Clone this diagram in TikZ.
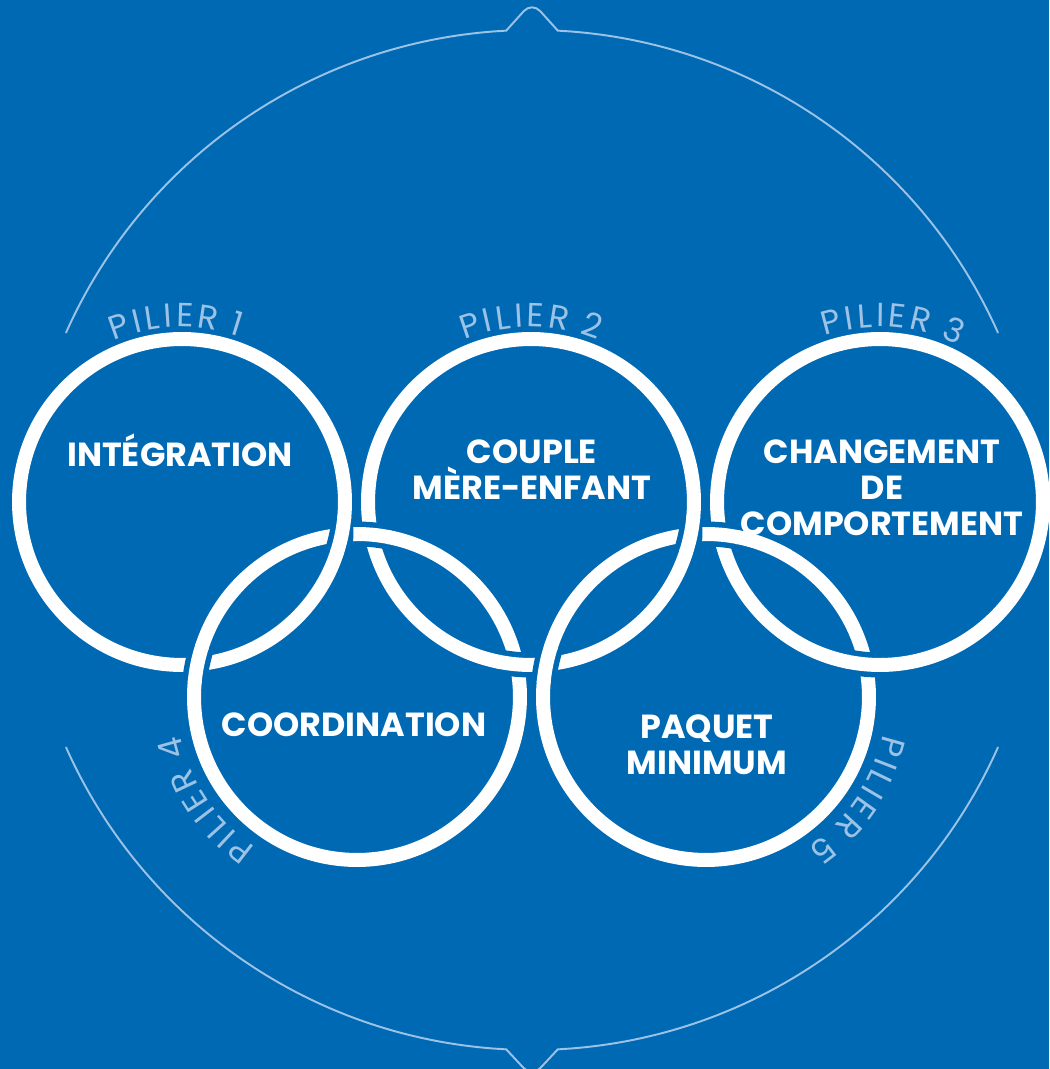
\documentclass[tikz,border=0pt]{standalone}
\usepackage{fontspec}
\usepackage{xcolor}
\usetikzlibrary{decorations.text}
\setmainfont{Poppins}
\newfontfamily\pilierfont{Poppins}
\definecolor{fond}{HTML}{0069B4}
\definecolor{trait}{HTML}{9CC2E6}

\newcommand{\passe}[2]{%
  \draw[ecart] ([shift={(#2-6:163)}]#1.center) arc[start angle=#2-6, end angle=#2+6, radius=163];
  \draw[dessus] ([shift={(#2-6.5:163)}]#1.center) arc[start angle=#2-6.5, end angle=#2+6.5, radius=163];}

\begin{document}
\begin{tikzpicture}[x=0.02cm, y=0.02cm,
    anneau/.style={circle, draw=white, line width=0.28cm, minimum size=6.52cm, inner sep=0pt},
    dessus/.style={line width=0.28cm, white},
    ecart/.style={line width=0.5cm, fond},
    titre/.style={text=white, font=\bfseries\fontsize{19}{20.5}\selectfont, align=center},
    contour/.style={draw=trait, line width=1.1pt, line cap=round},
    pilier/.style={decorate, decoration={text along path, text align=center, text color=trait,
      text={|\pilierfont\fontsize{19}{19}\selectfont|{P\kern2pt}{I\kern2pt}{L\kern2pt}{I\kern2pt}{E\kern2pt}{R\kern2pt} #1}}}]

    \fill[fond] (0,0) rectangle (1049,1069);
    \useasboundingbox (0,0) rectangle (1049,1069);

    \coordinate (hub) at (532,529);
    \draw[contour] ([shift={(156:510)}]hub) arc[start angle=156, end angle=92.9, radius=510];
    \draw[contour, rounded corners=7] ([shift={(92.9:510)}]hub) -- (532,1067) -- ([shift={(87.1:510)}]hub);
    \draw[contour] ([shift={(87.1:510)}]hub) arc[start angle=87.1, end angle=24, radius=510];
    \draw[contour] ([shift={(204:510)}]hub) arc[start angle=204, end angle=267.1, radius=510];
    \draw[contour, rounded corners=7] ([shift={(267.1:510)}]hub) -- (532,-8) -- ([shift={(272.9:510)}]hub);
    \draw[contour] ([shift={(272.9:510)}]hub) arc[start angle=272.9, end angle=336, radius=510];

    \node[anneau] (ring1) at (182,567) {};
    \node[anneau] (ring2) at (531,567) {};
    \node[anneau] (ring3) at (880,567) {};
    \node[anneau] (ring4) at (357,372) {};
    \node[anneau] (ring5) at (706,372) {};

    \passe{ring1}{-11.6}
    \passe{ring2}{-11.6}
    \passe{ring2}{264.8}
    \passe{ring3}{264.8}
    \passe{ring4}{168.4}
    \passe{ring4}{84.8}
    \passe{ring5}{168.4}
    \passe{ring5}{84.8}

    \node[titre] (integration) at (180,619) {INTÉGRATION};
    \node[titre] (couple) at (532,599) {COUPLE\\MÈRE-ENFANT};
    \node[titre] (changement) at (882,581) {CHANGEMENT\\DE\\COMPORTEMENT};
    \node[titre] (coordination) at (354,344) {COORDINATION};
    \node[titre] (paquet) at (707,324) {PAQUET\\MINIMUM};

    \path[pilier=1] ([shift={(137:175)}]ring1.center) arc[start angle=137, end angle=47, radius=175];
    \path[pilier=2] ([shift={(135:175)}]ring2.center) arc[start angle=135, end angle=45, radius=175];
    \path[pilier=3] ([shift={(131:175)}]ring3.center) arc[start angle=131, end angle=41, radius=175];
    \path[pilier=4] ([shift={(259:181)}]ring4.center) arc[start angle=259, end angle=169, radius=181];
    \path[pilier=5] ([shift={(11:181)}]ring5.center) arc[start angle=11, end angle=-79, radius=181];
  \end{tikzpicture}
\end{document}
